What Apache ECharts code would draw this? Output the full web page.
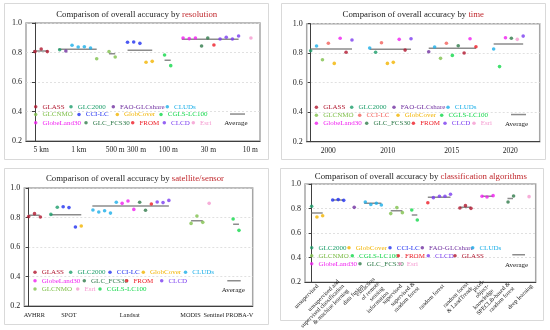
<!DOCTYPE html>
<html><head><meta charset="utf-8">
<script src="https://cdn.jsdelivr.net/npm/echarts@6/dist/echarts.min.js"></script>
<style>html,body{margin:0;padding:0;background:#fff}#c{width:550px;height:330px}</style>
</head><body><div id="c"></div>
<script>
const FONT = '"Liberation Serif","Times New Roman",serif';

// ---------- Panel 1: resolution ----------
const resCategories = ['5 km','1 km','500 m','300 m','100 m','30 m','10 m'];
const resCategoryPos = [1.0, 7.1, 13.0, 16.45, 21.6, 28.1, 34.9];
const resProducts = ['GLASS','GLC2000','FAO-GLCshare','CLUDs','GLCNMO','CCI-LC','GlobCover','CGLS-LC100','GlobeLand30','GLC_FCS30','FROM','CLCD','Esri'];
const resSlots = [[0,1,2],[4],[5],[6,7,8,9],[10,12,13],[15,16,17],[18,19],[21,22],[24,25,26],[27,28],[29],[30,31,32,33],[35]];
const resValues = [[0.806,0.824,0.806],[0.819],[0.810],[0.849,0.837,0.839,0.831],[0.758,0.806,0.770],[0.869,0.871,0.862],[0.734,0.740],[0.783,0.711],[0.898,0.894,0.898],[0.844,0.898],[0.851],[0.892,0.903,0.892,0.912],[0.898]];
const resAvgFrom = [-0.3,3.8,12,15,21,23.8];
const resAvgTo = [2.1,10,13,19,22,33];
const resAvg = [0.810,0.822,0.792,0.815,0.747,0.889];

// ---------- Panel 2: time ----------
const timeCategories = ['2000','2010','2015','2020'];
const timeCategoryPos = [3.0, 13.05, 23.9, 33.8];
const timeProducts = ['GLASS','GLC2000','FAO-GLCshare','CLUDs','GLCNMO','CCI-LC','GlobCover','CGLS-LC100','GlobeLand30','GLC_FCS30','FROM','CLCD','Esri'];
const timeSlots = [[6,16,26],[0,11],[20],[1,10,21,31],[2,22],[3,12,23],[4,13,14],[24,32],[5,15,27,33],[25,34],[28],[7,17,36],[35]];
const timeValues = [[0.806,0.821,0.801],[0.817,0.806],[0.810],[0.849,0.835,0.842,0.828],[0.756,0.765],[0.867,0.871,0.867],[0.731,0.731,0.738],[0.785,0.709],[0.901,0.894,0.898,0.905],[0.851,0.901],[0.844],[0.889,0.898,0.916],[0.894]];
const timeAvgFrom = [0,10,20,31];
const timeAvgTo = [7,17,28,36];
const timeAvg = [0.828,0.826,0.833,0.862];

// ---------- Panel 3: satellite/sensor ----------
const satCategories = ['AVHRR','SPOT','Landsat','MODIS','Sentinel','PROBA-V'];
const satCategoryPos = [0.97, 6.9, 17.3, 27.7, 31.7, 36.1];
const satProducts = ['GLASS','GLC2000','CCI-LC','GlobCover','CLUDs','GlobeLand30','GLC_FCS30','FROM','CLCD','GLCNMO','Esri','CGLS-LC100'];
const satSlots = [[0,1,2],[3.8,4.9],[5.9,6.9,8],[9],[11,12,13,14,15],[16,17,18],[19,20],[21],[22,23,24],[27.8,28.8,29.8],[30.9],[35,36]];
const satValues = [[0.806,0.826,0.803],[0.821,0.869],[0.873,0.867,0.736],[0.742],[0.851,0.837,0.846,0.830,0.903],[0.896,0.912,0.855],[0.903,0.849],[0.892],[0.905,0.901,0.916],[0.760,0.810,0.767],[0.896],[0.790,0.713]];
const satAvgFrom = [-0.1,3.7,10.9,27.8,35];
const satAvgTo = [1.9,9,24,29.8,36];
const satAvg = [0.815,0.819,0.878,0.778,0.754];

// ---------- Panel 4: classification algorithms ----------
const algCategories = ['unsupervised','unsupervised and\nsupervised classification\n& machine learning','data fusion','extraction\nof remote\nsensing\ninformation','supervised','supervised &\nrandom forest','random forest','random forest\n& LandTrendr','pixel-\nobject-\nknowledge','SPECLib-based &\nrandom forest','deep learning'];
const algCategoryPos = [1.1, 5.7, 9.2, 12.5, 16.2, 18.9, 23.8, 28.6, 31.9, 36.1, 39.8];
const algProducts = ['GLC2000','GlobCover','CCI-LC','FAO-GLCshare','CLUDs','GLCNMO','CGLS-LC100','FROM','CLCD','GLASS','GlobeLand30','GLC_FCS30','Esri'];
const algSlots = [[0],[0.96,1.99],[3.8,4.8,5.8],[7.7],[9.7,10.7,11.7,12.6],[14.3,15.4,16.4],[18.1,19.1],[21.0],[22.0,23.1,24.1,25.1],[26.8,27.8,28.8],[30.8,31.7,32.8],[35.5,36.5],[39.3]];
const algValues = [[0.818],[0.732,0.742],[0.870,0.873,0.867],[0.810],[0.853,0.833,0.843,0.829],[0.759,0.808,0.767],[0.789,0.707],[0.848],[0.889,0.900,0.900,0.916],[0.805,0.824,0.802],[0.900,0.894,0.905],[0.853,0.902],[0.897]];
const algAvgFrom = [0,3.8,9.5,14.3,18.1,21,26.8,30.8,35.4];
const algAvgTo = [2,5.8,12.6,16.4,19.1,25.1,28.8,32.8,36.4];
const algAvg = [0.764,0.870,0.843,0.783,0.748,0.892,0.810,0.900,0.883];

// ---------- styling ----------
const colors = {
  'GLASS':'#b0162e','GLC2000':'#1b9e6a','FAO-GLCshare':'#7030a0','CLUDs':'#1aaee8',
  'GLCNMO':'#80c04c','CCI-LC':'#1f2ff0','GlobCover':'#f2b400','CGLS-LC100':'#12d84a',
  'GlobeLand30':'#f01ef0','GLC_FCS30':'#2f7a4a','FROM':'#ee1c25','CLCD':'#7a3cf0','Esri':'#f59ad0'
};
const panelColorOverride = [{}, {'CCI-LC':'#f2605a'}, {}, {}];
const colorOf = (p, n) => panelColorOverride[p][n] || colors[n];

const panels = [
  {cats:resCategories, pos:resCategoryPos, prods:resProducts, slots:resSlots, vals:resValues, af:resAvgFrom, at:resAvgTo, av:resAvg,
   grid:{left:26, top:23, width:234, height:118}, xmin:-1.46, xmax:36.47, labelSize:7.5,
   title:['Comparison of overall accuracy by ','resolution'], tx:136.7, ty:15},
  {cats:timeCategories, pos:timeCategoryPos, prods:timeProducts, slots:timeSlots, vals:timeValues, af:timeAvgFrom, at:timeAvgTo, av:timeAvg,
   grid:{left:306.7, top:23.7, width:233, height:118}, xmin:-0.67, xmax:38.8, labelSize:7.5,
   title:['Comparison of overall accuracy by ','time'], tx:413.3, ty:15},
  {cats:satCategories, pos:satCategoryPos, prods:satProducts, slots:satSlots, vals:satValues, af:satAvgFrom, at:satAvgTo, av:satAvg,
   grid:{left:24.3, top:188, width:228.4, height:118}, xmin:-0.75, xmax:38.35, labelSize:6.3,
   title:['Comparison of overall accuracy by ','satellite/sensor'], tx:135, ty:179},
  {cats:algCategories, pos:algCategoryPos, prods:algProducts, slots:algSlots, vals:algValues, af:algAvgFrom, at:algAvgTo, av:algAvg,
   grid:{left:305, top:184, width:230.7, height:98.3}, xmin:-1.2, xmax:40.5, labelSize:6,
   title:['Comparison of overall accuracy by ','classification algorithms'], tx:420.8, ty:176.7}
];

// legend layouts: [name, iconCenterX, iconCenterY]
const legendLayouts = [
  [['GLASS',35.7,106.7],['GLC2000',71,106.7],['FAO-GLCshare',113.3,106.7],['CLUDs',167.3,106.7],
   ['GLCNMO',35.7,114.5],['CCI-LC',79,114.5],['GlobCover',117.3,114.5],['CGLS-LC100',161,114.5],
   ['GlobeLand30',35.7,122.7],['GLC_FCS30',86,122.7],['FROM',132.7,122.7],['CLCD',164.3,122.7],['Esri',193.3,122.7]],
  [['GLASS',316.4,107.3],['GLC2000',351.7,107.3],['FAO-GLCshare',394,107.3],['CLUDs',448,107.3],
   ['GLCNMO',316.4,115.2],['CCI-LC',359.7,115.2],['GlobCover',398,115.2],['CGLS-LC100',441.7,115.2],
   ['GlobeLand30',316.4,123.3],['GLC_FCS30',366.7,123.3],['FROM',413.4,123.3],['CLCD',445,123.3],['Esri',474,123.3]],
  [['GLASS',35,272.3],['GLC2000',70.7,272.3],['CCI-LC',110,272.3],['GlobCover',143.3,272.3],['CLUDs',185.5,272.3],
   ['GlobeLand30',35,280.7],['GLC_FCS30',84.3,280.7],['FROM',126.7,280.7],['CLCD',161.7,280.7],
   ['GLCNMO',35,289],['Esri',77.7,289],['CGLS-LC100',100,289]],
  [['GLC2000',311.7,247.7],['GlobCover',349,247.7],['CCI-LC',390,247.7],['FAO-GLCshare',422.3,247.7],['CLUDs',472.7,247.7],
   ['GLCNMO',311.7,255.7],['CGLS-LC100',352.3,255.7],['FROM',398.3,255.7],['CLCD',428.3,255.7],['GLASS',455,255.7],
   ['GlobeLand30',311.7,263.7],['GLC_FCS30',360,263.7],['Esri',400,263.7]]
];
// average legend: [lineX0, lineX1, lineY, textLeft, textCenterY]
const avgLegendLayouts = [
  [230,245,114.3,224.3,123.3],
  [511,526,114.8,505,124],
  [227.3,240.7,281,221.7,290],
  [512.3,525,255,505,265]
];

const grids = [], xAxes = [], yAxes = [], series = [], titles = [], legends = [];
panels.forEach((P, p) => {
  grids.push(Object.assign({show:true, borderColor:'#a6a6a6', borderWidth:1.5, backgroundColor:'transparent', containLabel:false, outerBoundsMode:'none'}, P.grid));
  const isAlg = p === 3;
  xAxes.push({
    gridIndex:p, type:'value', min:P.xmin, max:P.xmax,
    axisLine:{show:true, onZero:false, lineStyle:{color:'#404040', width:1}},
    axisTick:{show:false}, splitLine:{show:false},
    axisLabel:{
      customValues:P.pos,
      formatter:(v) => {
        let bi = 0, bd = Infinity;
        P.pos.forEach((q, i) => { const d = Math.abs(q - v); if (d < bd) { bd = d; bi = i; } });
        return P.cats[bi];
      },
      fontFamily:FONT, fontSize:P.labelSize, lineHeight: isAlg ? 6.5 : 9,
      color:'#222', margin: isAlg ? 3 : 4.5, rotate: isAlg ? 45 : 0
    }
  });
  yAxes.push({
    gridIndex:p, type:'value', min:0.2, max:1.0, interval:0.2,
    axisLine:{show:true, lineStyle:{color:'#404040', width:1}},
    axisTick:{show:true, inside:false, length:3, lineStyle:{color:'#404040'}},
    splitLine:{show:true, lineStyle:{color:'#d9d9d9', type:[2,2], width:0.8}},
    axisLabel:{fontFamily:FONT, fontSize:8, color:'#222', margin:4, formatter:(v) => v.toFixed(1)}
  });
  P.prods.forEach((name, i) => {
    series.push({
      name, type:'scatter', xAxisIndex:p, yAxisIndex:p, symbol:'circle', symbolSize:3.6,
      itemStyle:{color:colorOf(p, name)}, z:3, silent:true,
      data:P.slots[i].map((s, j) => [s, P.vals[i][j]])
    });
  });
  P.av.forEach((v, k) => {
    series.push({
      name:'Average', type:'line', xAxisIndex:p, yAxisIndex:p, symbol:'none', silent:true, z:1,
      lineStyle:{color:'#8c8c8c', width:1.5}, itemStyle:{color:'#8c8c8c'},
      data:[[P.af[k], v], [P.at[k], v]]
    });
  });
  titles.push({
    text:'{a|' + P.title[0] + '}{b|' + P.title[1] + '}',
    left:P.tx, top:P.ty - 5.5, textAlign:'center', padding:0,
    textStyle:{fontFamily:FONT, fontSize:8.8, fontWeight:'normal', color:'#222',
      rich:{a:{fontFamily:FONT, fontSize:8.8, color:'#222', lineHeight:11},
            b:{fontFamily:FONT, fontSize:8.8, color:'#c0282d', lineHeight:11}}}
  });
  legendLayouts[p].forEach(([name, cx, cy]) => {
    const c = colorOf(p, name);
    legends.push({
      show:true, left:cx - 1.75, top:cy - 4.5, padding:0, itemGap:0, itemWidth:3.5, itemHeight:3.5,
      icon:'circle', selectedMode:false,
      data:[{name, itemStyle:{color:c}, textStyle:{color:c}}],
      textStyle:{fontFamily:FONT, fontSize:7, lineHeight:9, color:c}
    });
  });
  const A = avgLegendLayouts[p];
  legends.push({
    show:true, left:A[0], top:A[2] - 1, padding:0, itemGap:0, itemWidth:A[1] - A[0], itemHeight:1.5,
    icon:'rect', selectedMode:false, formatter:() => '',
    data:[{name:'Average', itemStyle:{color:'#8c8c8c'}}],
    textStyle:{fontSize:2, lineHeight:2}
  });
  legends.push({
    show:true, left:A[3] - 6, top:A[4] - 4.5, padding:0, itemGap:0, itemWidth:1, itemHeight:1,
    icon:'rect', selectedMode:false,
    data:[{name:'Average', itemStyle:{color:'rgba(0,0,0,0)'}}],
    textStyle:{fontFamily:FONT, fontSize:7, lineHeight:9, color:'#222'}
  });
});

const panelBoxes = [[4,3,264,156],[281,3,264,156],[4,168,264,156],[280,168,263,152]];
const graphic = panelBoxes.map(b => ({
  type:'rect', shape:{x:b[0] + 0.5, y:b[1] + 0.5, width:b[2], height:b[3]},
  style:{fill:'none', stroke:'#d9d9d9', lineWidth:1}, silent:true, z:-10
}));

const chart = echarts.init(document.getElementById('c'), null, {renderer:'canvas'});
chart.setOption({
  animation:false, backgroundColor:'#fff',
  title:titles, grid:grids, xAxis:xAxes, yAxis:yAxes, legend:legends, series, graphic
});
</script></body></html>
